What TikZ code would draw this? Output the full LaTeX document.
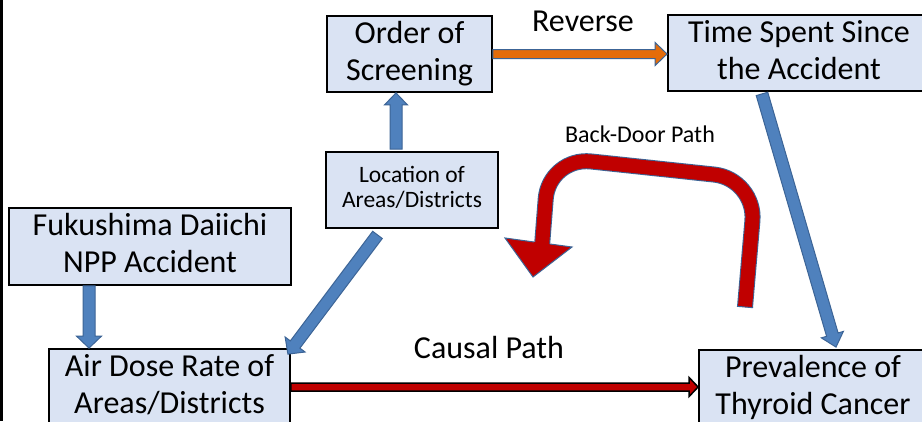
\documentclass[tikz,border=0pt]{standalone}
\usepackage{fontspec}
\setmainfont{Carlito}
\usetikzlibrary{calc}
\definecolor{boxfill}{RGB}{218,227,243}
\definecolor{blk}{RGB}{79,129,189}
\definecolor{blkline}{RGB}{60,100,150}
\definecolor{orng}{RGB}{228,108,10}
\definecolor{dred}{RGB}{192,0,0}
\newcommand{\blkarrow}[6][]{%
  \coordinate (ba-a) at #2;
  \coordinate (ba-b) at #3;
  \coordinate (ba-h) at ($(ba-b)!#6!(ba-a)$);
  \path[#1] ($(ba-a)!#4!90:(ba-b)$) -- ($(ba-h)!#4!90:(ba-b)$) -- ($(ba-h)!#5!90:(ba-b)$) -- (ba-b)
    -- ($(ba-h)!#5!-90:(ba-b)$) -- ($(ba-h)!#4!-90:(ba-b)$) -- ($(ba-a)!#4!-90:(ba-b)$) -- cycle;
}
\tikzset{
  boxbase/.style={draw=black, line width=1.8pt, fill=boxfill, align=center, inner sep=0pt},
  box/.style={boxbase, font=\fontsize{32}{37}\selectfont,
    execute at begin node={\rule{0pt}{28pt}}, execute at end node={\rule[-7pt]{0pt}{7pt}}},
  smallbox/.style={boxbase, font=\fontsize{23.5}{25}\selectfont,
    execute at begin node={\rule{0pt}{20pt}}, execute at end node={\rule[-7pt]{0pt}{7pt}}},
  lbl/.style={font=\fontsize{32}{36}\selectfont, inner sep=0pt, anchor=base},
  blockarrow/.style={fill=blk, draw=blkline, line width=1pt, line join=miter},
}
\begin{document}
\begin{tikzpicture}[x=1pt,y=-1pt]
\useasboundingbox (0,0) rectangle (922,421);
\fill[white] (0,0) rectangle (922,421);
\draw[line width=3pt] (1.5,0) -- (1.5,421);

\node[box, minimum width=165pt, minimum height=76pt] (order) at (409.5,54) {Order of\\Screening};
\node[box, minimum width=262pt, minimum height=76pt] (time) at (799,53) {Time Spent Since\\the Accident};
\node[smallbox, minimum width=172pt, minimum height=76pt] (loc) at (412,190) {Location of\\Areas/Districts};
\node[box, minimum width=282pt, minimum height=77pt] (fuku) at (150,246.5) {Fukushima Daiichi\\NPP Accident};
\node[box, minimum width=241pt, minimum height=76pt] (air) at (169.5,387) {Air Dose Rate of\\Areas/Districts};
\node[box, minimum width=228pt, minimum height=76pt] (prev) at (813,388) {Prevalence of\\Thyroid Cancer};

\node[lbl] (rev) at (583,31) {Reverse};
\node[lbl] (causal) at (489,358) {Causal Path};
\node[font=\fontsize{24}{28}\selectfont, inner sep=0pt, anchor=base] (bd) at (640,142) {Back-Door Path};

\blkarrow[blockarrow]{([xshift=-16pt,yshift=2pt]loc.north)}{([xshift=-13.5pt]order.south)}{6pt}{11.5pt}{12pt}
\blkarrow[blockarrow, fill=orng]{(order.east)}{(order.east -| time.west)}{4.5pt}{11.5pt}{12pt}
\blkarrow[blockarrow]{([xshift=-37pt,yshift=-2pt]time.south)}{([xshift=23pt,yshift=2pt]prev.north)}{6pt}{11.5pt}{13pt}
\blkarrow[blockarrow]{([xshift=-34.5pt,yshift=-6pt]loc.south)}{([xshift=-3pt,yshift=-6pt]air.north east)}{6pt}{12.5pt}{12pt}
\blkarrow[blockarrow]{([xshift=-61pt]fuku.south)}{([xshift=-80.5pt]air.north)}{6pt}{12.5pt}{12pt}
\blkarrow[fill=dred, draw=black, line width=1.5pt, line join=miter]{(air.east)}{(air.east -| prev.west)}{4pt}{9.5pt}{9pt}

% back-door curved arrow
\draw[blkline, line width=1pt, double=dred, double distance=14pt, rounded corners=42pt]
  (745,307) -- (756,179) -- (549,157) -- (542,246);
\fill[dred] (505,238) -- (533,277) -- (572,247) -- cycle;
\draw[blkline, line width=1pt, line join=miter] (534,242) -- (505,238) -- (533,277) -- (572,247) -- (550,244);
\draw[blkline, line width=1pt] (737,306.3) -- (753,307.7);
\end{tikzpicture}
\end{document}
